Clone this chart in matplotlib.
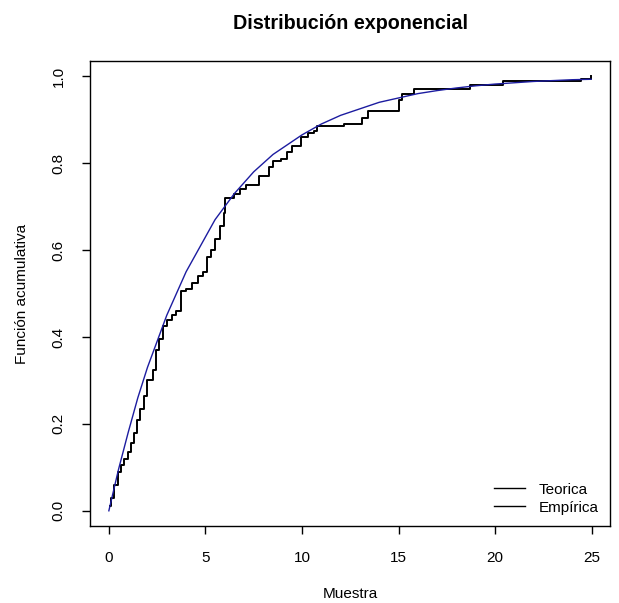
import matplotlib
matplotlib.use("Agg")
import matplotlib.pyplot as plt
from matplotlib.lines import Line2D

plt.rcParams['font.family'] = ['Liberation Sans', 'DejaVu Sans']

title = "Distribución exponencial"
xlabel = "Muestra"
ylabel = "Función acumulativa"
legend_labels = ["Teorica", "Empírica"]

ecdf_x = [0.05, 0.10, 0.25, 0.45, 0.65, 0.80, 1.00, 1.15, 1.30, 1.45, 1.60, 1.80,
          1.95, 2.30, 2.45, 2.60, 2.80, 3.00, 3.25, 3.50, 3.75, 4.00, 4.30, 4.60,
          4.90, 5.10, 5.30, 5.50, 5.75, 5.95, 6.00, 6.50, 6.80, 7.10, 7.80, 8.30,
          8.50, 8.90, 9.20, 9.50, 9.95, 10.30, 10.60, 10.80, 12.20, 13.10, 13.40,
          15.00, 15.20, 15.80, 18.70, 20.40, 24.45, 24.97]
ecdf_y = [0.01, 0.03, 0.06, 0.09, 0.105, 0.12, 0.135, 0.155, 0.18, 0.21, 0.235, 0.265,
          0.30, 0.325, 0.37, 0.395, 0.425, 0.44, 0.45, 0.46, 0.505, 0.51, 0.525, 0.54,
          0.55, 0.585, 0.60, 0.625, 0.655, 0.685, 0.72, 0.73, 0.74, 0.75, 0.77, 0.79,
          0.805, 0.81, 0.825, 0.84, 0.86, 0.87, 0.875, 0.885, 0.89, 0.905, 0.92,
          0.945, 0.96, 0.97, 0.98, 0.99, 0.993, 1.00]

# Theoretical CDF points
teo_x = [0, 0.5, 1, 1.5, 2, 2.5, 3, 3.5, 4, 4.5, 5, 5.5, 6, 6.5, 7, 7.5, 8, 8.5, 9,
         9.5, 10, 11, 12, 13, 14, 15, 16, 17, 18, 19, 20, 21, 22, 23, 24, 24.97]
teo_y = [0.0, 0.095, 0.18, 0.26, 0.33, 0.39, 0.45, 0.50, 0.55, 0.59, 0.63, 0.67, 0.70,
         0.73, 0.755, 0.78, 0.80, 0.82, 0.835, 0.85, 0.865, 0.89, 0.91, 0.925, 0.94,
         0.95, 0.96, 0.967, 0.973, 0.978, 0.982, 0.985, 0.988, 0.99, 0.992, 0.993]

xticks = [0, 5, 10, 15, 20, 25]
yticks = [0.0, 0.2, 0.4, 0.6, 0.8, 1.0]
ytick_labels = ["0.0", "0.2", "0.4", "0.6", "0.8", "1.0"]

fig = plt.figure(figsize=(6.19, 6.03), dpi=100)
ax = fig.add_axes([0.1462, 0.1277, 0.8393, 0.7711])

ax.step(ecdf_x, ecdf_y, where='post', color='black', lw=1.4)
ax.plot(teo_x, teo_y, color='#1c1ca0', lw=1.0)

ax.set_xlim(-0.95, 25.95)
ax.set_ylim(-0.035, 1.035)
ax.set_xticks(xticks)
ax.set_xticklabels([str(t) for t in xticks])
ax.set_yticks(yticks)
ax.set_yticklabels(ytick_labels, rotation=90, va='center')

for s in ax.spines.values():
    s.set_linewidth(1.0)
ax.tick_params(axis='both', direction='out', length=6, width=1.0,
               labelsize=11, pad=12)

ax.set_title(title, fontsize=14.2, fontweight='bold', pad=23)
ax.set_xlabel(xlabel, fontsize=11, labelpad=16)
ax.set_ylabel(ylabel, fontsize=11, labelpad=16)

handles = [Line2D([0], [0], color='black', lw=1.0),
           Line2D([0], [0], color='black', lw=1.0)]
ax.legend(handles, legend_labels, loc='lower right', bbox_to_anchor=(0.995, 0.005),
          frameon=False, fontsize=11, handlelength=2.0, handletextpad=0.9,
          labelspacing=0.25, borderaxespad=0.2)

fig.savefig("out.png", dpi=100)
